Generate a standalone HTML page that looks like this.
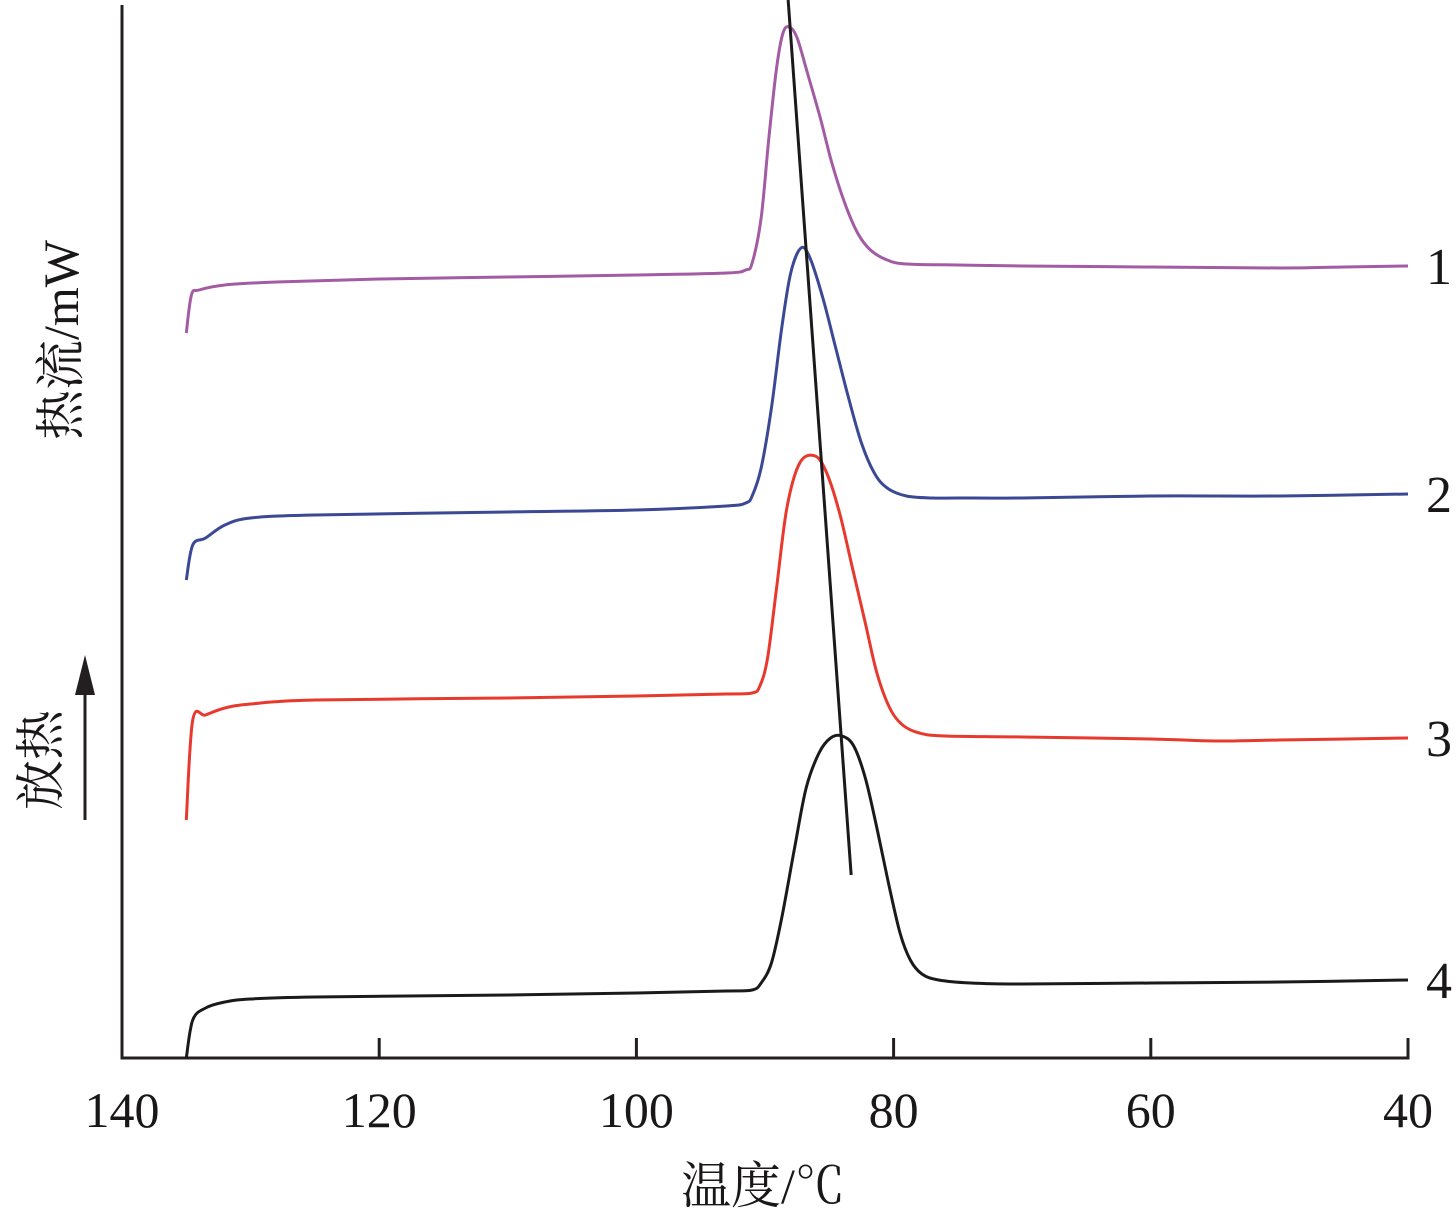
<!DOCTYPE html>
<html><head><meta charset="utf-8">
<style>
html,body{margin:0;padding:0;background:#fff;}
svg{display:block;}
text{font-family:"Liberation Serif","Noto Serif CJK SC",serif;fill:#1a1718;}
</style></head>
<body>
<svg id="chart" width="1456" height="1215" viewBox="0 0 1456 1215" xmlns="http://www.w3.org/2000/svg">
<g id="axes"></g>
<g id="series"></g>
</svg>
<script>
// Data (temperature °C, signal in arbitrary units; 1 unit = 100px above x-axis)
const xTicks = [140,120,100,80,60,40];
const seriesLabels = ["1","2","3","4"];
const seriesColors = ["#a35ba3","#3b4995","#e8392e","#1a1a1a"];
const temps1 = [135,134.6,134,132,128,120,110,100,93,91.5,91,90.3,89.7,89.1,88.6,88.1,87.5,86.7,85.7,84.8,83.8,82.8,81.8,80.5,79,75,70,60,50,45,40];
const vals1  = [7.25,7.63,7.68,7.73,7.76,7.79,7.81,7.83,7.85,7.88,7.95,8.4,9.2,9.9,10.25,10.31,10.2,9.85,9.4,8.95,8.55,8.25,8.08,7.98,7.94,7.93,7.92,7.91,7.90,7.91,7.92];
const temps2 = [135,134.5,133.5,132,130,125,110,100,93,91.5,91,90.3,89.5,88.7,88,87.2,86.5,85.5,84.5,83.5,82.5,81.5,80.5,79,77,75,70,60,50,40];
const vals2  = [4.78,5.13,5.20,5.33,5.40,5.43,5.46,5.48,5.52,5.55,5.62,5.9,6.5,7.3,7.85,8.10,8.0,7.6,7.1,6.6,6.15,5.85,5.7,5.62,5.6,5.6,5.6,5.62,5.62,5.64];
const temps3 = [135,134.5,133.5,132,130,125,110,100,93,91,90.4,89.8,89.1,88.3,87.3,86.1,85.2,84.2,83.2,82.2,81.3,80.3,79.3,78,76,70,60,55,50,40];
const vals3  = [2.38,3.38,3.43,3.50,3.54,3.58,3.60,3.62,3.64,3.65,3.72,4.0,4.7,5.5,5.95,6.02,5.85,5.45,4.9,4.35,3.85,3.5,3.33,3.25,3.22,3.21,3.19,3.17,3.18,3.20];
const temps4 = [135,134.5,133.5,132,130,125,110,100,93,91,90.3,89.5,88.7,87.7,86.8,85.8,84.9,84,83.1,82.2,81.3,80.4,79.5,78.7,77.8,76.5,74,70,60,50,40];
const vals4  = [0.00,0.38,0.50,0.56,0.59,0.61,0.63,0.65,0.67,0.68,0.75,0.95,1.4,2.1,2.7,3.05,3.2,3.22,3.12,2.8,2.3,1.75,1.25,0.98,0.84,0.78,0.75,0.74,0.75,0.76,0.78];
const allTemps = [temps1,temps2,temps3,temps4];
const allVals = [vals1,vals2,vals3,vals4];
const peakLineT = [88.2, 83.3];
const peakLineV = [10.58, 1.83];

const X0=122, X1=1408, Y0=1058;
function xs(t){ return X0 + (140 - t) * (X1 - X0) / 100; }
function ys(v){ return Y0 - v * 100; }
const NS="http://www.w3.org/2000/svg";
function mk(tag, attrs, parent){ const e=document.createElementNS(NS,tag); for(const k in attrs) e.setAttribute(k,attrs[k]); parent.appendChild(e); return e; }
const axes=document.getElementById('axes'), ser=document.getElementById('series');

let e;
e=mk('line',{x1:X0,y1:5,x2:X0,y2:Y0,stroke:'#231f20','stroke-width':3},axes);


e=mk('line',{x1:X0-1.5,y1:Y0,x2:X1+1.5,y2:Y0,stroke:'#231f20','stroke-width':3},axes);


xTicks.forEach(t=>{
  const x=xs(t);
  let tk=mk('line',{x1:x,y1:Y0,x2:x,y2:Y0-20,stroke:'#231f20','stroke-width':3},axes);
  
  
  let lb=mk('text',{x:x,y:1127,'font-size':50,'text-anchor':'middle'},axes);
  lb.textContent=t;
  
  
});
e=mk('text',{x:763,y:1203,'font-size':50,'text-anchor':'middle'},axes);
e.textContent='温度/℃';


e=mk('text',{x:0,y:0,'font-size':50,'text-anchor':'middle',transform:'translate(78,340) rotate(-90)'},axes);
e.textContent='热流/mW';


e=mk('text',{x:0,y:0,'font-size':50,'text-anchor':'middle',transform:'translate(58,760) rotate(-90)'},axes);
e.textContent='放热';


e=mk('line',{x1:85,y1:820,x2:85,y2:690,stroke:'#231f20','stroke-width':3},axes);


e=mk('polygon',{points:'85,655 75,695 95,695',fill:'#231f20'},axes);



allTemps.forEach((ts,i)=>{
  const vs=allVals[i];
  const pts=ts.map((t,j)=>[xs(t),ys(vs[j])]);
  let d='M'+pts[0][0]+','+pts[0][1];
  for(let j=1;j<pts.length;j++){
    const p0=pts[Math.max(0,j-2)],p1=pts[j-1],p2=pts[j],p3=pts[Math.min(pts.length-1,j+1)];
    const c1x=p1[0]+(p2[0]-p0[0])/6,c1y=p1[1]+(p2[1]-p0[1])/6;
    const c2x=p2[0]-(p3[0]-p1[0])/6,c2y=p2[1]-(p3[1]-p1[1])/6;
    d+=' C'+c1x+','+c1y+' '+c2x+','+c2y+' '+p2[0]+','+p2[1];
  }
  let p=mk('path',{d:d,fill:'none',stroke:seriesColors[i],'stroke-width':3,'stroke-linejoin':'round'},ser);
  
  
  const last=pts[pts.length-1];
  let lb=mk('text',{x:1426,y:last[1]+18,'font-size':52},ser);
  lb.textContent=seriesLabels[i];
  
  
});
e=mk('line',{x1:xs(peakLineT[0]),y1:ys(peakLineV[0]),x2:xs(peakLineT[1]),y2:ys(peakLineV[1]),stroke:'#1a1a1a','stroke-width':3},ser);


</script>
</body></html>
